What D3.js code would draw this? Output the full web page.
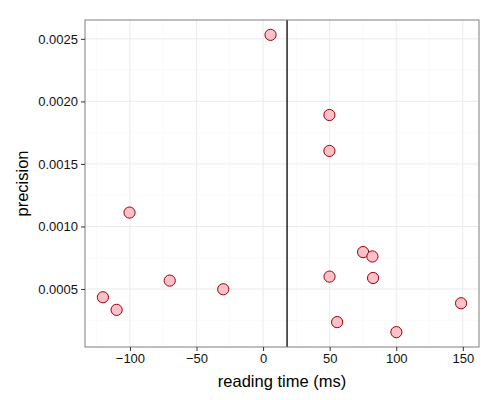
<!DOCTYPE html>
<html>
<head>
  <meta charset="UTF-8">
  <style>
    body { margin: 0; background: #fff; }
    text { font-family: "Liberation Sans", Arial, sans-serif; }
  </style>
</head>
<body>
<script src="https://d3js.org/d3.v7.min.js"></script>
<div id="my_dataviz"></div>
<script>

// data
var readingTime = [5.6, 49.8, 49.8, -100.3, -70.1, -29.9, -120.3, -110, 75.1, 82.1, 49.9, 82.6, 148.7, 55.6, 100.1];
var precision = [0.002532, 0.001891, 0.001604, 0.001111, 0.000567, 0.000498, 0.000434, 0.000333,
                 0.000795, 0.00076, 0.000599, 0.000588, 0.000386, 0.000235, 0.000155];
var xTicks = [-100, -50, 0, 50, 100, 150];
var yTicks = [0.0005, 0.0010, 0.0015, 0.0020, 0.0025];
var xMinor = [-125, -75, -25, 25, 75, 125];
var yMinor = [0.00025, 0.00075, 0.00125, 0.00175, 0.00225];
var vline = 18;

var W = 500, H = 400;
var margin = {top: 20, right: 21, bottom: 53, left: 85};
var width = W - margin.left - margin.right,
    height = H - margin.top - margin.bottom;

var svg = d3.select("#my_dataviz")
  .append("svg")
    .attr("width", W)
    .attr("height", H)
  .append("g")
    .attr("transform", "translate(" + margin.left + "," + margin.top + ")");

// ggplot style 5% expansion
var xr = d3.extent(readingTime), yr = d3.extent(precision);
var xpad = (xr[1] - xr[0]) * 0.05, ypad = (yr[1] - yr[0]) * 0.05;
var x = d3.scaleLinear().domain([xr[0] - xpad, xr[1] + xpad]).range([0, width]);
var y = d3.scaleLinear().domain([yr[0] - ypad, yr[1] + ypad]).range([height, 0]);

// grid
var grid = svg.append("g");
grid.selectAll(".xminor").data(xMinor).enter().append("line")
  .attr("x1", d => x(d)).attr("x2", d => x(d)).attr("y1", 0).attr("y2", height)
  .style("stroke", "#f7f7f7").style("stroke-width", 0.6);
grid.selectAll(".yminor").data(yMinor).enter().append("line")
  .attr("y1", d => y(d)).attr("y2", d => y(d)).attr("x1", 0).attr("x2", width)
  .style("stroke", "#f7f7f7").style("stroke-width", 0.6);
grid.selectAll(".xmajor").data(xTicks).enter().append("line")
  .attr("x1", d => x(d)).attr("x2", d => x(d)).attr("y1", 0).attr("y2", height)
  .style("stroke", "#ebebeb").style("stroke-width", 1);
grid.selectAll(".ymajor").data(yTicks).enter().append("line")
  .attr("y1", d => y(d)).attr("y2", d => y(d)).attr("x1", 0).attr("x2", width)
  .style("stroke", "#ebebeb").style("stroke-width", 1);

// vertical reference line
svg.append("line")
  .attr("x1", x(vline)).attr("x2", x(vline)).attr("y1", 0).attr("y2", height)
  .style("stroke", "#000").style("stroke-width", 1.3);

// points
svg.append("g")
  .selectAll("circle")
  .data(readingTime.map((d, i) => ({x: d, y: precision[i]})))
  .enter()
  .append("circle")
    .attr("cx", d => x(d.x))
    .attr("cy", d => y(d.y))
    .attr("r", 5.6)
    .style("fill", "#ffc0cb")
    .style("stroke", "#990000")
    .style("stroke-width", 1);

// panel border
svg.append("rect")
  .attr("x", 0).attr("y", 0).attr("width", width).attr("height", height)
  .style("fill", "none").style("stroke", "#7f7f7f").style("stroke-width", 1);

// axes
var xAxis = svg.append("g")
  .attr("transform", "translate(0," + height + ")")
  .call(d3.axisBottom(x).tickValues(xTicks).tickSize(4).tickPadding(3)
    .tickFormat(d => d < 0 ? "\u2212" + Math.abs(d) : d));
var yAxis = svg.append("g")
  .call(d3.axisLeft(y).tickValues(yTicks).tickSize(4).tickPadding(3)
    .tickFormat(d3.format(".4f")));
[xAxis, yAxis].forEach(a => {
  a.select(".domain").remove();
  a.selectAll(".tick line").style("stroke", "#333").style("stroke-width", 1);
  a.selectAll(".tick text").style("font-size", "13px").style("fill", "#111")
    .style("font-family", "'Liberation Sans', Arial, sans-serif");
});

// axis titles
svg.append("text")
  .attr("x", width / 2)
  .attr("y", height + 40)
  .attr("text-anchor", "middle")
  .style("font-size", "16.5px")
  .text("reading time (ms)");
svg.append("text")
  .attr("transform", "translate(" + (-63) + "," + (height / 2) + ") rotate(-90)")
  .attr("text-anchor", "middle")
  .attr("dy", "0.35em")
  .style("font-size", "16.5px")
  .text("precision");

</script>
</body>
</html>
